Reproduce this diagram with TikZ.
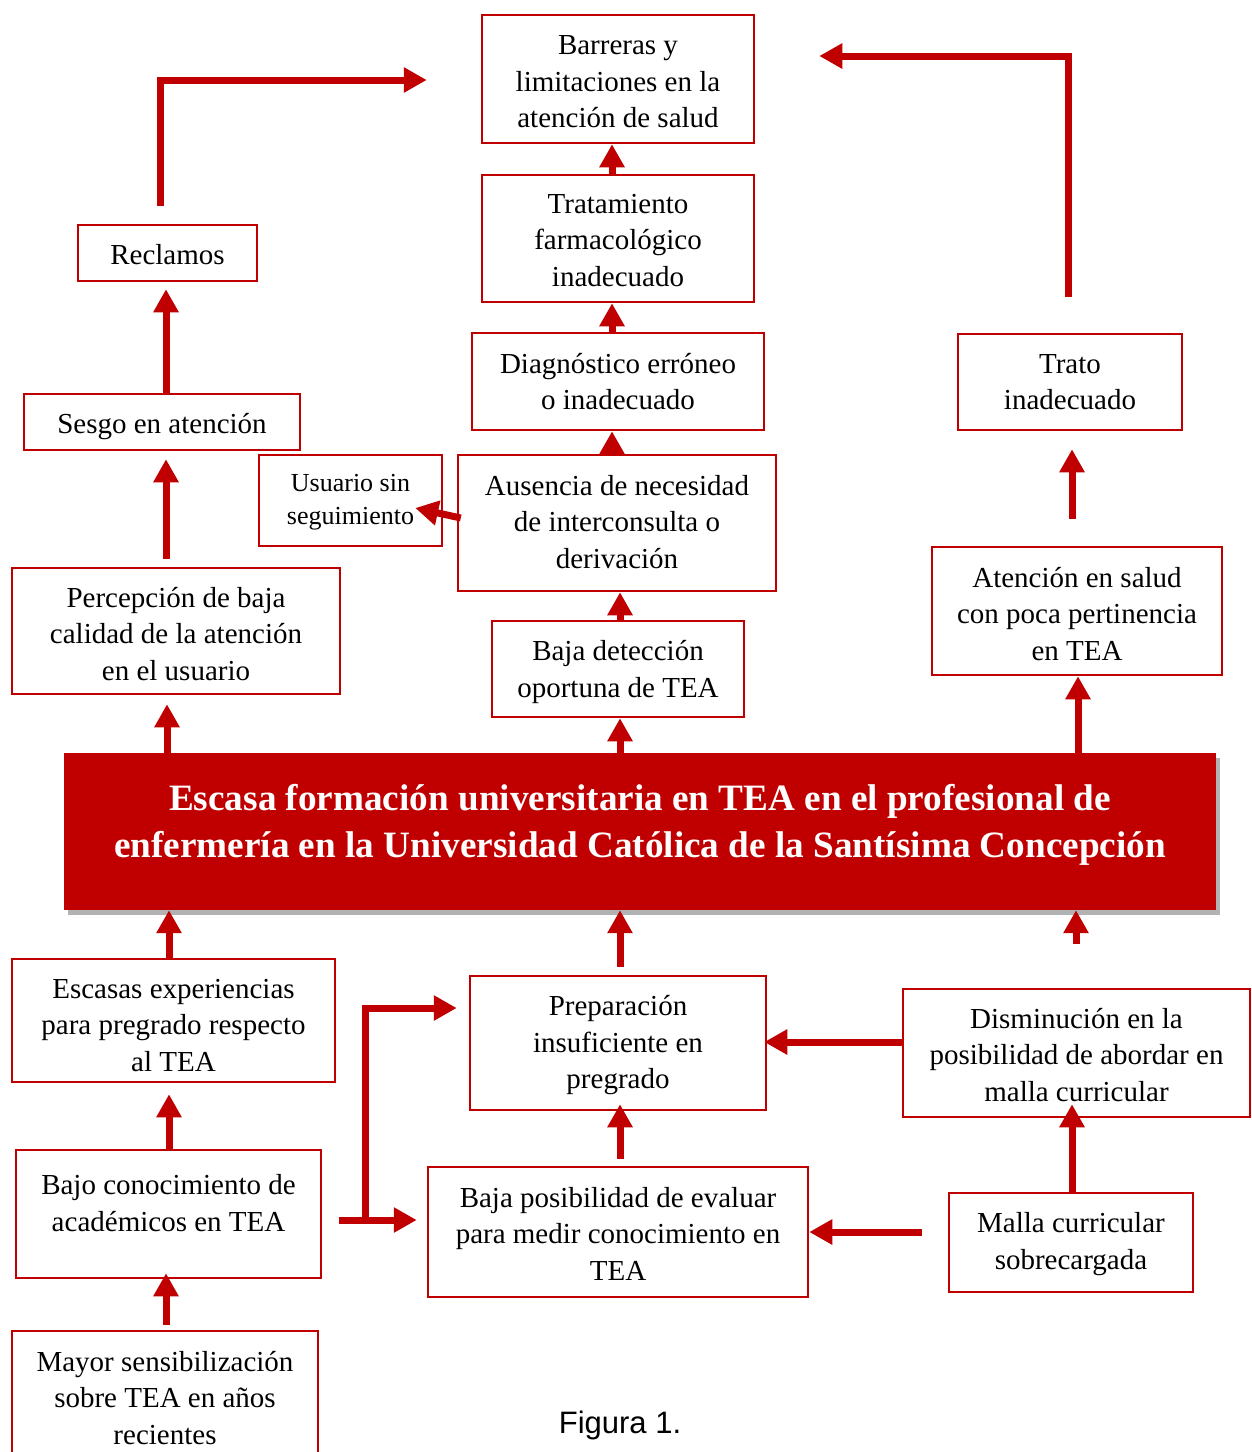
\documentclass[tikz,border=0pt]{standalone}
\usepackage{fontspec}
\setmainfont{Liberation Serif}
\newfontfamily\figsans{Liberation Sans}
\usetikzlibrary{arrows.meta,shadows}
\definecolor{redzero}{HTML}{C00000}
\newcommand\bxfont{\fontsize{29pt}{36.5pt}\selectfont}
\newcommand\bxsmall{\fontsize{26pt}{33pt}\selectfont}
\newcommand\ttlfont{\fontsize{37.2pt}{47pt}\selectfont\bfseries}
\tikzset{
  box/.style={draw=redzero, line width=2.5pt, rectangle, inner sep=0pt},
  txt/.style={inner sep=0pt, align=center, font=\bxfont},
  arr/.style={draw=redzero, line width=7pt, -{Triangle[length=23pt,width=24pt]}},
}
\begin{document}
\begin{tikzpicture}[x=1pt,y=-1pt]
\useasboundingbox (0,0) rectangle (1252,1452);
\begin{scope}
\clip (0,0) rectangle (1252,1452);
% top column
\node[box, minimum width=272pt, minimum height=128pt] (barr) at (618,79) {};
\node[txt] (barrT) at (618,82) {Barreras y\\limitaciones en la\\atención de salud};
\node[box, minimum width=272pt, minimum height=127pt] (trat) at (618,238.5) {};
\node[txt] (tratT) at (618,240.5) {Tratamiento\\farmacológico\\inadecuado};
\node[box, minimum width=292pt, minimum height=97pt] (diag) at (618,381.5) {};
\node[txt] (diagT) at (618,381.5) {Diagnóstico erróneo\\o inadecuado};
\node[box, minimum width=318pt, minimum height=136pt] (aus) at (617,523) {};
\node[txt] (ausT) at (617,522) {Ausencia de necesidad\\de interconsulta o\\derivación};
\node[box, minimum width=183pt, minimum height=91pt] (usu) at (350.5,500.5) {};
\node[txt, font=\bxsmall] (usuT) at (350.5,502.5) {Usuario sin\\seguimiento};
\node[box, minimum width=252pt, minimum height=96pt] (bdet) at (618,669) {};
\node[txt] (bdetT) at (618,672) {Baja detección\\oportuna de TEA};
% left column
\node[box, minimum width=179pt, minimum height=56pt] (recl) at (167.5,253) {};
\node[txt] (reclT) at (167.5,255) {Reclamos};
\node[box, minimum width=276pt, minimum height=56pt] (sesgo) at (162,422) {};
\node[txt] (sesgoT) at (162,427) {Sesgo en atención};
\node[box, minimum width=328pt, minimum height=126pt] (perc) at (176,631) {};
\node[txt] (percT) at (176,634) {Percepción de baja\\calidad de la atención\\en el usuario};
% right column
\node[box, minimum width=224pt, minimum height=96pt] (trato) at (1070,382) {};
\node[txt] (tratoT) at (1070,382) {Trato\\inadecuado};
\node[box, minimum width=290pt, minimum height=128pt] (aten) at (1077,611) {};
\node[txt] (atenT) at (1077,614) {Atención en salud\\con poca pertinencia\\en TEA};
% main box
\node[fill=redzero, draw=none, minimum width=1152pt, minimum height=157pt, inner sep=0pt,
      drop shadow={shadow xshift=4pt, shadow yshift=-5pt, fill=black, opacity=0.3}] (main) at (640,831.5) {};
\node[txt, font=\ttlfont, text=white] (mainT) at (640,824.5) {Escasa formación universitaria en TEA en el profesional de\\enfermería en la Universidad Católica de la Santísima Concepción};
% bottom
\node[box, minimum width=323pt, minimum height=123pt] (esc) at (173.5,1020.5) {};
\node[txt] (escT) at (173.5,1025.5) {Escasas experiencias\\para pregrado respecto\\al TEA};
\node[box, minimum width=305pt, minimum height=128pt] (bajo) at (168.5,1214) {};
\node[txt] (bajoT) at (168.5,1203) {Bajo conocimiento de\\académicos en TEA};
\node[box, minimum width=306pt, minimum height=129pt] (mayor) at (165,1395.5) {};
\node[txt] (mayorT) at (165,1398) {Mayor sensibilización\\sobre TEA en años\\recientes};
\node[box, minimum width=296pt, minimum height=134pt] (prep) at (618,1043) {};
\node[txt] (prepT) at (618,1045.5) {Preparación\\insuficiente en\\pregrado};
\node[box, minimum width=380pt, minimum height=130pt] (bpos) at (618,1232) {};
\node[txt] (bposT) at (618,1233.5) {Baja posibilidad de evaluar\\para medir conocimiento en\\TEA};
\node[box, minimum width=347pt, minimum height=128pt] (dism) at (1076.5,1053) {};
\node[txt] (dismT) at (1076.5,1055) {Disminución en la\\posibilidad de abordar en\\malla curricular};
\node[box, minimum width=244pt, minimum height=99pt] (malla) at (1071,1242.5) {};
\node[txt] (mallaT) at (1071,1244) {Malla curricular\\sobrecargada};
\node[inner sep=0pt, font=\figsans\fontsize{31pt}{36pt}\selectfont] (fig) at (620,1425) {Figura 1.};

% arrows top column
\draw[arr] (trat.north -| 612,0) -- (barr.south -| 612,0);
\draw[arr] (diag.north -| 612,0) -- (trat.south -| 612,0);
\draw[arr] (aus.north -| 612,0) -- (diag.south -| 612,0);
\draw[arr] (bdet.north -| 620,0) -- (aus.south -| 620,0);
\draw[arr] (main.north -| 620,0) -- (bdet.south -| 620,0);
\draw[arr] ([shift={(4,-5)}]aus.west) -- ([shift={(-28,7.5)}]usu.east);
% left column
\draw[arr, shorten >=9pt] (main.north -| 167,0) -- (perc.south -| 167,0);
\draw[arr, shorten <=8pt, shorten >=8pt] (perc.north -| 166,0) -- (sesgo.south -| 166,0);
\draw[arr, shorten >=7pt] (sesgo.north -| 166,0) -- (recl.south -| 166,0);
\draw[arr, shorten <=18pt, shorten >=54pt] (recl.north -| 160,0) |- ([yshift=-1pt]barr.west);
% right column
\draw[arr, shorten <=27pt, shorten >=18pt] (aten.north -| 1072,0) -- (trato.south -| 1072,0);
\draw[arr, shorten <=36pt, shorten >=64pt] (trato.north -| 1068,0) |- ([yshift=23pt]barr.east);
\draw[arr] (main.north -| 1078,0) -- (aten.south -| 1078,0);
% into main
\draw[arr] (esc.north -| 169,0) -- (main.south -| 169,0);
\draw[arr, shorten <=8pt] (prep.north -| 620,0) -- (main.south -| 620,0);
\draw[arr, shorten <=44pt] (dism.north -| 1076,0) -- (main.south -| 1076,0);
% bottom
\draw[arr, shorten >=11pt] (bajo.north -| 169,0) -- (esc.south -| 169,0);
\draw[arr, shorten <=5pt, shorten >=-6pt] (mayor.north -| 166,0) -- (bajo.south -| 166,0);
\draw[arr, shorten <=17pt, shorten >=10pt] (bajo.east |- 0,1220) -- (bpos.west |- 0,1220);
\coordinate (br) at (365,1220);
\draw[arr, shorten >=12pt] (br) |- (prep.west |- 0,1008);
\draw[arr, shorten <=7pt, shorten >=-7pt] (bpos.north -| 620,0) -- (prep.south -| 620,0);
\draw[arr, shorten >=-3pt] (dism.west |- 0,1042) -- (prep.east |- 0,1042);
\draw[arr, shorten <=26pt] (malla.west |- 0,1232) -- (bpos.east |- 0,1232);
\draw[arr, shorten >=-14pt] (malla.north -| 1072,0) -- (dism.south -| 1072,0);
\end{scope}
\end{tikzpicture}
\end{document}
